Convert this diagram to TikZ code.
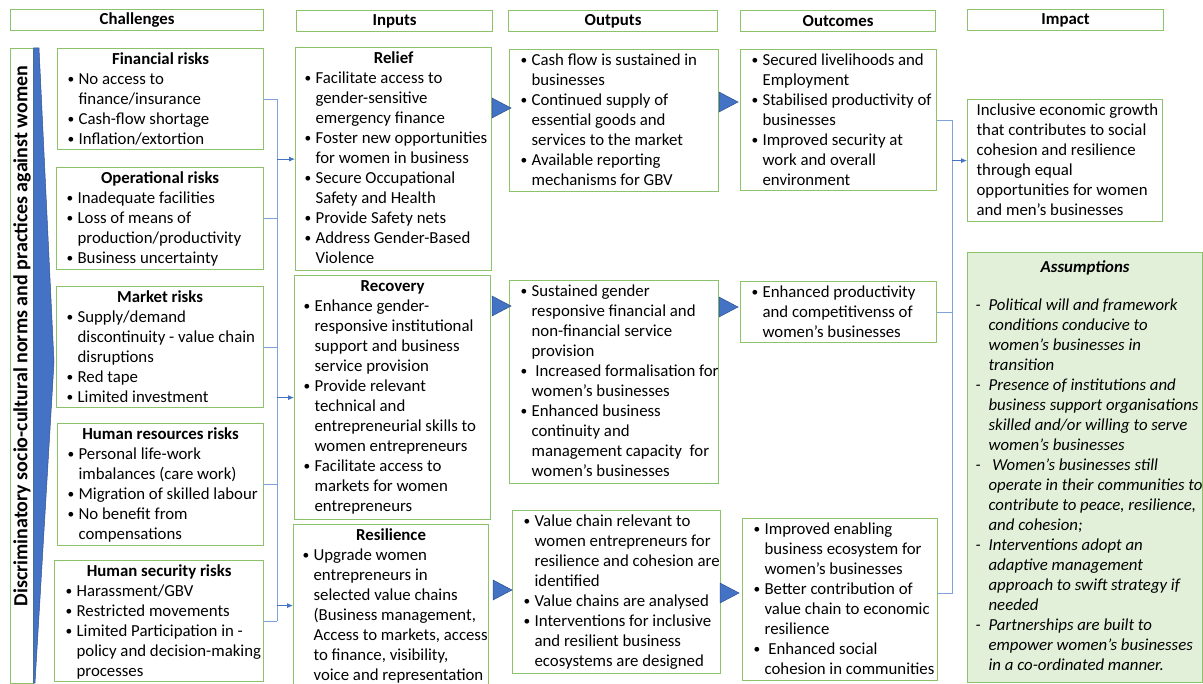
\documentclass[tikz,border=0pt]{standalone}
\usepackage{fontspec}
\usepackage{graphicx}
\setmainfont{Carlito}
\usetikzlibrary{arrows.meta,calc}

\definecolor{boxgreen}{HTML}{8CC26A}
\definecolor{linkblue}{HTML}{4472C4}
\definecolor{buscol}{HTML}{7FA2DC}
\definecolor{triedge}{HTML}{2F528F}
\definecolor{assumfill}{HTML}{E2F0D9}

% small bullet glyph
\newcommand\bul{\raisebox{1pt}{\scalebox{0.8}{\textbullet}}}
% bullet item: bullet, then lines broken by hand
\newcommand\bl[1]{\par\noindent\makebox[11pt][l]{\bul}\begin{tabular}[t]{@{}l@{}}#1\end{tabular}}
% dash item for the assumptions
\newcommand\dl[1]{\par\noindent\makebox[13pt][l]{-}\begin{tabular}[t]{@{}l@{}}#1\end{tabular}}
% plain block of lines
\newcommand\pl[1]{\par\noindent\begin{tabular}[t]{@{}l@{}}#1\end{tabular}}
% centred bold title
\newcommand\ttl[1]{\par{\centering\strut\textbf{#1}\par}}
% fixed-size text frame: width, height, left pad, content
\newcommand\cbox[4]{\parbox[c][#2pt][t]{#1pt}{\lineskip=0pt\lineskiplimit=0pt\leftskip=#3pt\vspace{1.5pt}#4}}

\tikzset{
  box/.style={draw=boxgreen, line width=1.2pt, inner sep=0pt, anchor=north west,
              font=\fontsize{16.8}{20}\selectfont},
  hdr/.style={draw=boxgreen, line width=1.2pt, inner sep=0pt, anchor=north west,
              minimum height=21pt, font=\fontsize{16.8}{20}\selectfont\bfseries},
  bus/.style={draw=buscol, line width=1pt},
  arr/.style={draw=linkblue, line width=0.8pt, -{Latex[length=6pt,width=5pt]}},
  tri/.style={fill=linkblue, draw=triedge, line width=0.5pt},
}
\newcommand\tri[2]{\filldraw[tri] (#1,#2-10) -- (#1+19,#2) -- (#1,#2+10) -- cycle;}

\begin{document}
\begin{tikzpicture}[x=1pt,y=-1pt]
\useasboundingbox[fill=white] (0,0) rectangle (1203,684);

% column headers
\node[hdr, minimum width=253pt] (hch) at (10,9) {Challenges};
\node[hdr, minimum width=196pt] (hin) at (296,10) {Inputs};
\node[hdr, minimum width=209pt] (hout) at (508,10) {Outputs};
\node[hdr, minimum width=195pt] (hoc) at (740,10) {Outcomes};
\node[hdr, minimum width=196pt] (him) at (967,9) {Impact};

% cross-cutting norms band
\node[box, minimum width=23pt, minimum height=635pt] (normbox) at (10,48) {};
\node[rotate=90, font=\fontsize{20}{24}\selectfont\bfseries] (normtxt) at (22,336)
  {Discriminatory socio-cultural norms and practices against women};
\filldraw[tri] (33.5,48) -- (39,48) -- (54,362) -- (35,683) -- (33.5,683) -- cycle;

% challenges
\node[box] (fin) at (57,48) {\cbox{206}{101}{10}{\ttl{Financial risks}
  \bl{No access to\\finance/insurance}\bl{Cash-flow shortage}\bl{Inflation/extortion}}};
\node[box] (ops) at (56,167) {\cbox{207}{102}{10}{\ttl{Operational risks}
  \bl{Inadequate facilities}\bl{Loss of means of\\production/productivity}\bl{Business uncertainty}}};
\node[box] (mkt) at (56,286) {\cbox{207}{121}{10}{\ttl{Market risks}
  \bl{Supply/demand\\discontinuity - value chain\\disruptions}\bl{Red tape}\bl{Limited investment}}};
\node[box] (hr) at (57,423) {\cbox{206}{122}{10}{\ttl{Human resources risks}
  \bl{Personal life-work\\imbalances (care work)}\bl{Migration of skilled labour}\bl{No benefit from\\compensations}}};
\node[box] (hs) at (54,560) {\cbox{209}{121}{11}{\ttl{Human security risks}
  \bl{Harassment/GBV}\bl{Restricted movements}\bl{Limited Participation in -\\policy and decision-making\\processes}}};

% inputs
\node[box] (relief) at (295,47) {\cbox{196}{223}{9}{\ttl{Relief}
  \bl{Facilitate access to\\gender-sensitive\\emergency finance}
  \bl{Foster new opportunities\\for women in business}
  \bl{Secure Occupational\\Safety and Health}
  \bl{Provide Safety nets}
  \bl{Address Gender-Based\\Violence}}};
\node[box] (recov) at (294,275) {\cbox{196}{244}{9}{\ttl{Recovery}
  \bl{Enhance gender-\\responsive institutional\\support and business\\service provision}
  \bl{Provide relevant\\technical and\\entrepreneurial skills to\\women entrepreneurs}
  \bl{Facilitate access to\\markets for women\\entrepreneurs}}};
\node[box] (resil) at (293,524) {\cbox{195}{162}{9}{\ttl{Resilience}
  \bl{Upgrade women\\entrepreneurs in\\selected value chains\\(Business management,\\Access to markets, access\\to finance, visibility,\\voice and representation}}};

% outputs
\node[box] (out1) at (509,49) {\cbox{209}{142}{11}{
  \bl{Cash flow is sustained in\\businesses}
  \bl{Continued supply of\\essential goods and\\services to the market}
  \bl{Available reporting\\mechanisms for GBV}}};
\node[box] (out2) at (509,280) {\cbox{209}{203}{11}{
  \bl{Sustained gender\\responsive financial and\\non-financial service\\provision}
  \bl{\ Increased formalisation for\\women’s businesses}
  \bl{Enhanced business\\continuity and\\management capacity \ for\\women’s businesses}}};
\node[box] (out3) at (512,510) {\cbox{208}{163}{11}{
  \bl{Value chain relevant to\\women entrepreneurs for\\resilience and cohesion are\\identified}
  \bl{Value chains are analysed}
  \bl{Interventions for inclusive\\and resilient business\\ecosystems are designed}}};

% outcomes
\node[box] (oc1) at (740,49) {\cbox{196}{141}{11}{
  \bl{Secured livelihoods and\\Employment}
  \bl{Stabilised productivity of\\businesses}
  \bl{Improved security at\\work and overall\\environment}}};
\node[box] (oc2) at (740,281) {\cbox{196}{61}{11}{
  \bl{Enhanced productivity\\and competitivenss of\\women’s businesses}}};
\node[box] (oc3) at (742,518) {\cbox{195}{162}{11}{
  \bl{Improved enabling\\business ecosystem for\\women’s businesses}
  \bl{Better contribution of\\value chain to economic\\resilience}
  \bl{\ Enhanced social\\cohesion in communities}}};

% impact and assumptions
\node[box] (impact) at (967,99) {\cbox{195}{122}{9}{
  \pl{Inclusive economic growth\\that contributes to social\\cohesion and resilience\\through equal\\opportunities for women\\and men’s businesses}}};
\node[box, fill=assumfill] (assum) at (967,252) {\cbox{235}{430}{8}{\itshape\vspace{4pt}
  \ttl{Assumptions}\vspace{18pt}
  \dl{Political will and framework\\conditions conducive to\\women’s businesses in\\transition}
  \dl{Presence of institutions and\\business support organisations\\skilled and/or willing to serve\\women’s businesses}
  \dl{\ Women’s businesses still\\operate in their communities to\\contribute to peace, resilience,\\and cohesion;}
  \dl{Interventions adopt an\\adaptive management\\approach to swift strategy if\\needed}
  \dl{Partnerships are built to\\empower women’s businesses\\in a co-ordinated manner.}}};

% challenges feed the inputs
\coordinate (busL) at (277,0);
\foreach \b in {fin,ops,mkt,hr,hs} \draw[bus] (\b.east) -- (\b.east -| busL);
\draw[bus] (fin.east -| busL) -- (hs.east -| busL);
\foreach \b in {relief,recov,resil} \draw[arr] (\b.west -| busL) -- (\b.west);

% result chain arrows
\tri{492}{108}
\tri{492}{306}
\tri{493}{590}
\tri{719}{102}
\tri{719}{307}
\tri{720}{593}

% outcomes feed the impact
\coordinate (busR) at (952,0);
\coordinate (oc3out) at ($(oc3.east)+(0,-6)$);
\foreach \b in {oc1.east,oc2.east,oc3out} \draw[bus] (\b) -- (\b -| busR);
\draw[bus] (oc1.east -| busR) -- (oc3out -| busR);
\draw[arr] (impact.west -| busR) -- (impact.west);
\end{tikzpicture}
\end{document}
